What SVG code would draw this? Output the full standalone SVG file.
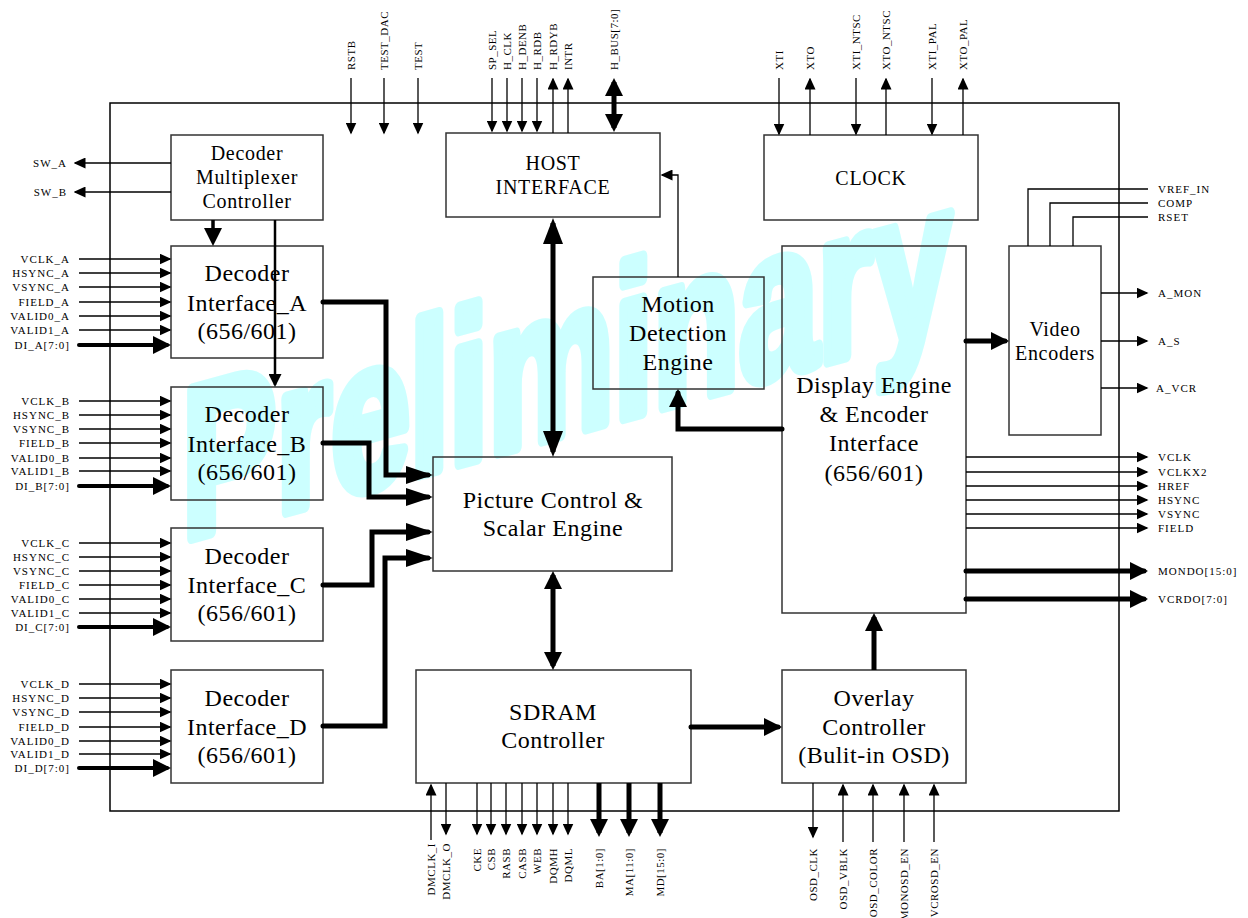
<svg xmlns="http://www.w3.org/2000/svg" width="1248" height="918" viewBox="0 0 1248 918">
<style>
.box{fill:none;stroke:#333;stroke-width:1.5}
.outer{fill:none;stroke:#000;stroke-width:1.5}
.t{stroke:#000;stroke-width:1.3;fill:none}
.k{stroke:#000;stroke-width:5;fill:none;stroke-linecap:round}
.k4{stroke:#000;stroke-width:4;fill:none;stroke-linecap:round}
text{font-family:"Liberation Serif","Times New Roman",serif;fill:#000}
.big{font-size:24px;letter-spacing:0.5px;text-anchor:middle}
.med{font-size:20px;letter-spacing:0.7px;text-anchor:middle}
.lbl{font-size:11px;letter-spacing:1px}
.tl{font-size:11px;letter-spacing:0.5px}
.e{text-anchor:end}
.wm{font-family:"Liberation Sans",Arial,sans-serif;font-weight:bold;font-size:214px;fill:#ccffff;stroke:#ccffff;stroke-width:13;stroke-linejoin:round}
</style>
<defs>
<marker id="ta" markerWidth="12" markerHeight="11" refX="10.5" refY="5.5" orient="auto-start-reverse" markerUnits="userSpaceOnUse"><path d="M0,0 L12,5.5 L0,11 z" fill="#000"/></marker>
<marker id="da" markerWidth="13" markerHeight="13" refX="11" refY="6.5" orient="auto-start-reverse" markerUnits="userSpaceOnUse"><path d="M0,0 L13,6.5 L0,13 z" fill="#000"/></marker>
<marker id="ma" markerWidth="18" markerHeight="18" refX="14" refY="9" orient="auto-start-reverse" markerUnits="userSpaceOnUse"><path d="M0,0 L18,9 L0,18 z" fill="#000"/></marker>
<marker id="pa" markerWidth="27" markerHeight="18" refX="22" refY="9" orient="auto-start-reverse" markerUnits="userSpaceOnUse"><path d="M0,0 L27,9 L0,18 z" fill="#000"/></marker>
<marker id="la" markerWidth="26" markerHeight="20" refX="21" refY="10" orient="auto-start-reverse" markerUnits="userSpaceOnUse"><path d="M0,0 L26,10 L0,20 z" fill="#000"/></marker>
</defs>

<g id="watermark">
<text class="wm" transform="translate(182,540) skewY(-15.5) scale(0.66,1)" x="0" y="0">Preliminary</text>
</g>

<g id="chip"><rect class="outer" x="110" y="103" width="1009" height="708"/></g>

<g id="dmc"><rect class="box" x="171" y="135" width="152" height="85"/>
<text class="med" x="247" y="160">Decoder</text><text class="med" x="247" y="184">Multiplexer</text><text class="med" x="247" y="208">Controller</text></g>

<g id="decA"><rect class="box" x="171" y="246" width="152" height="112"/>
<text class="big" x="247" y="281">Decoder</text><text class="big" x="247" y="311">Interface_A</text><text class="big" x="247" y="339">(656/601)</text></g>
<g id="decB"><rect class="box" x="171" y="387" width="152" height="113"/>
<text class="big" x="247" y="422">Decoder</text><text class="big" x="247" y="452">Interface_B</text><text class="big" x="247" y="480">(656/601)</text></g>
<g id="decC"><rect class="box" x="171" y="528" width="152" height="113"/>
<text class="big" x="247" y="564">Decoder</text><text class="big" x="247" y="593">Interface_C</text><text class="big" x="247" y="621">(656/601)</text></g>
<g id="decD"><rect class="box" x="171" y="670" width="152" height="113"/>
<text class="big" x="247" y="706">Decoder</text><text class="big" x="247" y="735">Interface_D</text><text class="big" x="247" y="763">(656/601)</text></g>

<g id="host"><rect class="box" x="446" y="133" width="214" height="84"/>
<text class="med" x="553" y="170">HOST</text><text class="med" x="553" y="194">INTERFACE</text></g>

<g id="clock"><rect class="box" x="764" y="135" width="214" height="85"/>
<text class="med" x="871" y="185">CLOCK</text></g>

<g id="motion"><rect class="box" x="593" y="277" width="171" height="112"/>
<text class="big" x="678" y="312">Motion</text><text class="big" x="678" y="341">Detection</text><text class="big" x="678" y="370">Engine</text></g>

<g id="picture"><rect class="box" x="433" y="457" width="239" height="114"/>
<text class="big" x="553" y="508">Picture Control &amp;</text><text class="big" x="553" y="536">Scalar Engine</text></g>

<g id="sdram"><rect class="box" x="416" y="670" width="275" height="113"/>
<text class="big" x="553" y="720">SDRAM</text><text class="big" x="553" y="748">Controller</text></g>

<g id="display"><rect class="box" x="782" y="246" width="184" height="367"/>
<text class="big" x="874" y="393">Display Engine</text><text class="big" x="874" y="422">&amp; Encoder</text><text class="big" x="874" y="451">Interface</text><text class="big" x="874" y="481">(656/601)</text></g>

<g id="overlay"><rect class="box" x="782" y="670" width="184" height="113"/>
<text class="big" x="874" y="706">Overlay</text><text class="big" x="874" y="735">Controller</text><text class="big" x="874" y="763">(Bulit-in OSD)</text></g>

<g id="venc"><rect class="box" x="1009" y="246" width="92" height="189"/>
<text class="med" x="1055" y="336">Video</text><text class="med" x="1055" y="360">Encoders</text></g>

<g id="connectors">
<line class="t" x1="351" y1="78" x2="351" y2="133" marker-end="url(#ta)"/>
<line class="t" x1="384" y1="78" x2="384" y2="133" marker-end="url(#ta)"/>
<line class="t" x1="418" y1="78" x2="418" y2="133" marker-end="url(#ta)"/>
<line class="t" x1="492" y1="78" x2="492" y2="131" marker-end="url(#ta)"/>
<line class="t" x1="507" y1="78" x2="507" y2="131" marker-end="url(#ta)"/>
<line class="t" x1="522" y1="78" x2="522" y2="131" marker-end="url(#ta)"/>
<line class="t" x1="537" y1="78" x2="537" y2="131" marker-end="url(#ta)"/>
<line class="t" x1="553" y1="133" x2="553" y2="79" marker-end="url(#ta)"/>
<line class="t" x1="568" y1="133" x2="568" y2="79" marker-end="url(#ta)"/>
<line class="k" style="stroke-linecap:butt" x1="614" y1="82" x2="614" y2="128" marker-start="url(#ma)" marker-end="url(#ma)"/>
<line class="t" x1="779" y1="78" x2="779" y2="134" marker-end="url(#ta)"/>
<line class="t" x1="810" y1="135" x2="810" y2="79" marker-end="url(#ta)"/>
<line class="t" x1="856" y1="78" x2="856" y2="134" marker-end="url(#ta)"/>
<line class="t" x1="886" y1="135" x2="886" y2="79" marker-end="url(#ta)"/>
<line class="t" x1="932" y1="78" x2="932" y2="134" marker-end="url(#ta)"/>
<line class="t" x1="963" y1="135" x2="963" y2="79" marker-end="url(#ta)"/>
<line class="t" x1="171" y1="163" x2="75" y2="163" marker-end="url(#ta)"/>
<line class="t" x1="171" y1="192" x2="75" y2="192" marker-end="url(#ta)"/>
<line class="k4" style="stroke-width:3.5;stroke-linecap:butt" x1="213" y1="220" x2="213" y2="242" marker-end="url(#ma)"/>
<line class="k4" style="stroke-width:2.5;stroke-linecap:butt" x1="275" y1="220" x2="275" y2="385" marker-end="url(#da)"/>
<line class="t" x1="79" y1="259" x2="170" y2="259" marker-end="url(#ta)"/>
<line class="t" x1="79" y1="273" x2="170" y2="273" marker-end="url(#ta)"/>
<line class="t" x1="79" y1="287" x2="170" y2="287" marker-end="url(#ta)"/>
<line class="t" x1="79" y1="302" x2="170" y2="302" marker-end="url(#ta)"/>
<line class="t" x1="79" y1="316" x2="170" y2="316" marker-end="url(#ta)"/>
<line class="t" x1="79" y1="330" x2="170" y2="330" marker-end="url(#ta)"/>
<line class="k4" x1="79" y1="345" x2="167" y2="345" marker-end="url(#ma)"/>
<line class="t" x1="79" y1="401" x2="170" y2="401" marker-end="url(#ta)"/>
<line class="t" x1="79" y1="415" x2="170" y2="415" marker-end="url(#ta)"/>
<line class="t" x1="79" y1="429" x2="170" y2="429" marker-end="url(#ta)"/>
<line class="t" x1="79" y1="443" x2="170" y2="443" marker-end="url(#ta)"/>
<line class="t" x1="79" y1="458" x2="170" y2="458" marker-end="url(#ta)"/>
<line class="t" x1="79" y1="471" x2="170" y2="471" marker-end="url(#ta)"/>
<line class="k4" x1="79" y1="486" x2="167" y2="486" marker-end="url(#ma)"/>
<line class="t" x1="79" y1="543" x2="170" y2="543" marker-end="url(#ta)"/>
<line class="t" x1="79" y1="557" x2="170" y2="557" marker-end="url(#ta)"/>
<line class="t" x1="79" y1="571" x2="170" y2="571" marker-end="url(#ta)"/>
<line class="t" x1="79" y1="585" x2="170" y2="585" marker-end="url(#ta)"/>
<line class="t" x1="79" y1="599" x2="170" y2="599" marker-end="url(#ta)"/>
<line class="t" x1="79" y1="613" x2="170" y2="613" marker-end="url(#ta)"/>
<line class="k4" x1="79" y1="627" x2="167" y2="627" marker-end="url(#ma)"/>
<line class="t" x1="79" y1="684" x2="170" y2="684" marker-end="url(#ta)"/>
<line class="t" x1="79" y1="698" x2="170" y2="698" marker-end="url(#ta)"/>
<line class="t" x1="79" y1="712" x2="170" y2="712" marker-end="url(#ta)"/>
<line class="t" x1="79" y1="727" x2="170" y2="727" marker-end="url(#ta)"/>
<line class="t" x1="79" y1="741" x2="170" y2="741" marker-end="url(#ta)"/>
<line class="t" x1="79" y1="754" x2="170" y2="754" marker-end="url(#ta)"/>
<line class="k4" x1="79" y1="768" x2="167" y2="768" marker-end="url(#ma)"/>
<path class="k" d="M323,302 H386 V475 H428" marker-end="url(#pa)"/>
<path class="k" d="M323,443 H369 V497 H428" marker-end="url(#pa)"/>
<path class="k" d="M323,585 H372 V532 H428" marker-end="url(#pa)"/>
<path class="k" d="M323,726 H385 V558 H428" marker-end="url(#pa)"/>
<line class="k" style="stroke-linecap:butt" x1="553" y1="223" x2="553" y2="452" marker-start="url(#la)" marker-end="url(#la)"/>
<line class="k" style="stroke-linecap:butt" x1="553" y1="575" x2="553" y2="666" marker-start="url(#ma)" marker-end="url(#ma)"/>
<path class="t" d="M678,277 V175 H662" marker-end="url(#ta)"/>
<path class="k" d="M782,429 H678 V393" marker-end="url(#ma)"/>
<line class="k" x1="691" y1="727" x2="778" y2="727" marker-end="url(#ma)"/>
<line class="k" style="stroke-linecap:butt" x1="874" y1="670" x2="874" y2="617" marker-end="url(#ma)"/>
<line class="k" x1="966" y1="341" x2="1005" y2="341" marker-end="url(#ma)"/>
<path class="t" d="M1028,246 V189 H1148"/>
<path class="t" d="M1050,246 V203 H1148"/>
<path class="t" d="M1073,246 V217 H1148"/>
<line class="t" x1="1101" y1="293" x2="1147" y2="293" marker-end="url(#ta)"/>
<line class="t" x1="1101" y1="341" x2="1147" y2="341" marker-end="url(#ta)"/>
<line class="t" x1="1101" y1="388" x2="1147" y2="388" marker-end="url(#ta)"/>
<line class="t" x1="966" y1="457" x2="1147" y2="457" marker-end="url(#ta)"/>
<line class="t" x1="966" y1="472" x2="1147" y2="472" marker-end="url(#ta)"/>
<line class="t" x1="966" y1="486" x2="1147" y2="486" marker-end="url(#ta)"/>
<line class="t" x1="966" y1="500" x2="1147" y2="500" marker-end="url(#ta)"/>
<line class="t" x1="966" y1="514" x2="1147" y2="514" marker-end="url(#ta)"/>
<line class="t" x1="966" y1="528" x2="1147" y2="528" marker-end="url(#ta)"/>
<line class="k" x1="966" y1="571" x2="1144" y2="571" marker-end="url(#ma)"/>
<line class="k" x1="966" y1="599" x2="1144" y2="599" marker-end="url(#ma)"/>
<line class="t" x1="431" y1="840" x2="431" y2="785" marker-end="url(#ta)"/>
<line class="t" x1="446" y1="783" x2="446" y2="834" marker-end="url(#ta)"/>
<line class="t" x1="477" y1="783" x2="477" y2="834" marker-end="url(#ta)"/>
<line class="t" x1="491" y1="783" x2="491" y2="834" marker-end="url(#ta)"/>
<line class="t" x1="506" y1="783" x2="506" y2="834" marker-end="url(#ta)"/>
<line class="t" x1="522" y1="783" x2="522" y2="834" marker-end="url(#ta)"/>
<line class="t" x1="537" y1="783" x2="537" y2="834" marker-end="url(#ta)"/>
<line class="t" x1="553" y1="783" x2="553" y2="834" marker-end="url(#ta)"/>
<line class="t" x1="568" y1="783" x2="568" y2="834" marker-end="url(#ta)"/>
<line class="k" style="stroke-linecap:butt" x1="599" y1="783" x2="599" y2="833" marker-end="url(#ma)"/>
<line class="k" style="stroke-linecap:butt" x1="629" y1="783" x2="629" y2="833" marker-end="url(#ma)"/>
<line class="k" style="stroke-linecap:butt" x1="660" y1="783" x2="660" y2="833" marker-end="url(#ma)"/>
<line class="t" x1="813" y1="783" x2="813" y2="837" marker-end="url(#ta)"/>
<line class="t" x1="843" y1="842" x2="843" y2="785" marker-end="url(#ta)"/>
<line class="t" x1="873" y1="842" x2="873" y2="785" marker-end="url(#ta)"/>
<line class="t" x1="904" y1="842" x2="904" y2="785" marker-end="url(#ta)"/>
<line class="t" x1="934" y1="842" x2="934" y2="785" marker-end="url(#ta)"/>
</g>

<g id="labels">
<text class="tl" transform="rotate(-90 355 70)" x="355" y="70">RSTB</text>
<text class="tl" transform="rotate(-90 388 70)" x="388" y="70">TEST_DAC</text>
<text class="tl" transform="rotate(-90 422 70)" x="422" y="70">TEST</text>
<text class="tl" transform="rotate(-90 496 70)" x="496" y="70">SP_SEL</text>
<text class="tl" transform="rotate(-90 511 70)" x="511" y="70">H_CLK</text>
<text class="tl" transform="rotate(-90 526 70)" x="526" y="70">H_DENB</text>
<text class="tl" transform="rotate(-90 541 70)" x="541" y="70">H_RDB</text>
<text class="tl" transform="rotate(-90 557 70)" x="557" y="70">H_RDYB</text>
<text class="tl" transform="rotate(-90 572 70)" x="572" y="70">INTR</text>
<text class="tl" transform="rotate(-90 618 70)" x="618" y="70">H_BUS[7:0]</text>
<text class="tl" transform="rotate(-90 783 70)" x="783" y="70">XTI</text>
<text class="tl" transform="rotate(-90 814 70)" x="814" y="70">XTO</text>
<text class="tl" transform="rotate(-90 860 70)" x="860" y="70">XTI_NTSC</text>
<text class="tl" transform="rotate(-90 890 70)" x="890" y="70">XTO_NTSC</text>
<text class="tl" transform="rotate(-90 936 70)" x="936" y="70">XTI_PAL</text>
<text class="tl" transform="rotate(-90 967 70)" x="967" y="70">XTO_PAL</text>
<text class="lbl e" x="67" y="167">SW_A</text>
<text class="lbl e" x="67" y="196">SW_B</text>
<text class="lbl e" x="70" y="263">VCLK_A</text>
<text class="lbl e" x="70" y="277">HSYNC_A</text>
<text class="lbl e" x="70" y="291">VSYNC_A</text>
<text class="lbl e" x="70" y="306">FIELD_A</text>
<text class="lbl e" x="70" y="320">VALID0_A</text>
<text class="lbl e" x="70" y="334">VALID1_A</text>
<text class="lbl e" x="70" y="349">DI_A[7:0]</text>
<text class="lbl e" x="70" y="405">VCLK_B</text>
<text class="lbl e" x="70" y="419">HSYNC_B</text>
<text class="lbl e" x="70" y="433">VSYNC_B</text>
<text class="lbl e" x="70" y="447">FIELD_B</text>
<text class="lbl e" x="70" y="462">VALID0_B</text>
<text class="lbl e" x="70" y="475">VALID1_B</text>
<text class="lbl e" x="70" y="490">DI_B[7:0]</text>
<text class="lbl e" x="70" y="547">VCLK_C</text>
<text class="lbl e" x="70" y="561">HSYNC_C</text>
<text class="lbl e" x="70" y="575">VSYNC_C</text>
<text class="lbl e" x="70" y="589">FIELD_C</text>
<text class="lbl e" x="70" y="603">VALID0_C</text>
<text class="lbl e" x="70" y="617">VALID1_C</text>
<text class="lbl e" x="70" y="631">DI_C[7:0]</text>
<text class="lbl e" x="70" y="688">VCLK_D</text>
<text class="lbl e" x="70" y="702">HSYNC_D</text>
<text class="lbl e" x="70" y="716">VSYNC_D</text>
<text class="lbl e" x="70" y="731">FIELD_D</text>
<text class="lbl e" x="70" y="745">VALID0_D</text>
<text class="lbl e" x="70" y="758">VALID1_D</text>
<text class="lbl e" x="70" y="772">DI_D[7:0]</text>
<text class="lbl" x="1158" y="193">VREF_IN</text>
<text class="lbl" x="1158" y="207">COMP</text>
<text class="lbl" x="1158" y="221">RSET</text>
<text class="lbl" x="1158" y="297">A_MON</text>
<text class="lbl" x="1158" y="345">A_S</text>
<text class="lbl" x="1156" y="392">A_VCR</text>
<text class="lbl" x="1158" y="461">VCLK</text>
<text class="lbl" x="1158" y="476">VCLKX2</text>
<text class="lbl" x="1158" y="490">HREF</text>
<text class="lbl" x="1158" y="504">HSYNC</text>
<text class="lbl" x="1158" y="518">VSYNC</text>
<text class="lbl" x="1158" y="532">FIELD</text>
<text class="lbl" x="1158" y="575">MONDO[15:0]</text>
<text class="lbl" x="1158" y="603">VCRDO[7:0]</text>
<text class="tl e" transform="rotate(-90 435 843)" x="435" y="843">DMCLK_I</text>
<text class="tl e" transform="rotate(-90 450 843)" x="450" y="843">DMCLK_O</text>
<text class="tl e" transform="rotate(-90 481 848)" x="481" y="848">CKE</text>
<text class="tl e" transform="rotate(-90 495 848)" x="495" y="848">CSB</text>
<text class="tl e" transform="rotate(-90 510 848)" x="510" y="848">RASB</text>
<text class="tl e" transform="rotate(-90 526 848)" x="526" y="848">CASB</text>
<text class="tl e" transform="rotate(-90 541 848)" x="541" y="848">WEB</text>
<text class="tl e" transform="rotate(-90 557 848)" x="557" y="848">DQMH</text>
<text class="tl e" transform="rotate(-90 572 848)" x="572" y="848">DQML</text>
<text class="tl e" transform="rotate(-90 603 848)" x="603" y="848">BA[1:0]</text>
<text class="tl e" transform="rotate(-90 633 848)" x="633" y="848">MA[11:0]</text>
<text class="tl e" transform="rotate(-90 664 848)" x="664" y="848">MD[15:0]</text>
<text class="tl e" transform="rotate(-90 817 848)" x="817" y="848">OSD_CLK</text>
<text class="tl e" transform="rotate(-90 847 848)" x="847" y="848">OSD_VBLK</text>
<text class="tl e" transform="rotate(-90 877 848)" x="877" y="848">OSD_COLOR</text>
<text class="tl e" transform="rotate(-90 908 848)" x="908" y="848">MONOSD_EN</text>
<text class="tl e" transform="rotate(-90 938 848)" x="938" y="848">VCROSD_EN</text>
</g>
</svg>
